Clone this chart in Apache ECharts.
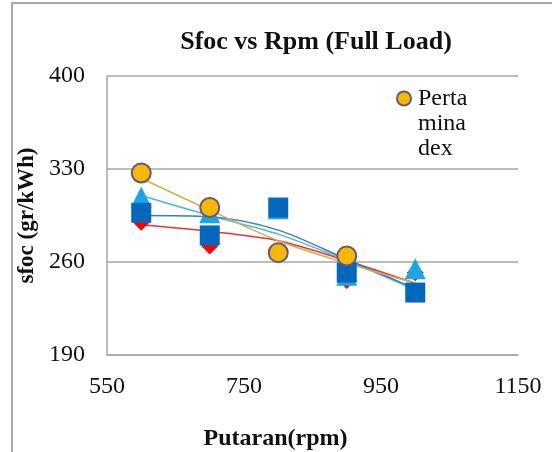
<!DOCTYPE html>
<html>
<head>
<meta charset="utf-8">
<script src="https://cdn.jsdelivr.net/npm/echarts@6/dist/echarts.min.js"></script>
<style>
  html, body { margin: 0; padding: 0; background: #fff; }
  #chart { width: 552px; height: 452px; }
</style>
</head>
<body>
<div id="chart"></div>
<script>
// rpm values
const rpm = [600, 700, 800, 900, 1000];

// measured sfoc (gr/kWh)
const pertaminaDex = [327, 301, 267, 264.5, null];
const redSeries = [290, 272, 300, 246, 252];
const lightBlueSeries = [309, 297, 300, 250, 255];
const darkBlueSeries = [297, 280, 301, 252, 237];

// trendlines
const pertaminaTrend = [323, 299, 276, 259, 244];
const redTrend = [288, 283, 276, 261, 244];
const lightBlueTrend = [310, 295, 281, 261, 239];
const darkBlueTrend = [295, 294, 284, 262, 240];

const yTicks = [190, 260, 330, 400];
const xTicks = [550, 750, 950, 1150];

const pairs = (ys) => rpm.map((x, i) => [x, ys[i]]);
const serif = '"Liberation Serif", "DejaVu Serif", serif';

const trend = (name, ys, color) => ({
  name: name,
  type: 'line',
  data: pairs(ys),
  smooth: 0.3,
  symbol: 'none',
  lineStyle: { color: color, width: 1.5 },
  z: 2,
  silent: true
});

const marks = (name, ys, symbol, size, color, z, border) => ({
  name: name,
  type: 'scatter',
  data: pairs(ys).filter((p) => p[1] != null),
  symbol: symbol,
  symbolSize: size,
  itemStyle: {
    color: color,
    borderColor: border || color,
    borderWidth: border ? 2 : 0,
    opacity: 1
  },
  z: z
});

const chart = echarts.init(document.getElementById('chart'));
chart.setOption({
  animation: false,
  backgroundColor: '#fff',
  title: {
    text: 'Sfoc vs Rpm (Full Load)',
    left: 311,
    textAlign: 'center',
    top: 24,
    textStyle: { fontFamily: serif, fontSize: 26, fontWeight: 'bold', color: '#111' }
  },
  legend: {
    data: ['Pertamina dex'],
    left: 391,
    top: 31,
    icon: 'circle',
    itemWidth: 14,
    itemHeight: 14,
    // two blank lines above keep the icon level with the first word
    formatter: () => '\u00a0\n\u00a0\nPerta\nmina\ndex',
    textStyle: { fontFamily: serif, fontSize: 24, lineHeight: 25, color: '#111', padding: [0, 0, 0, 2] }
  },
  grid: { left: 107, right: 34, top: 76, bottom: 97, outerBoundsMode: 'none', containLabel: false },
  xAxis: {
    type: 'value',
    min: 550,
    max: 1150,
    interval: 200,
    name: 'Putaran(rpm)',
    nameLocation: 'middle',
    nameGap: 72,
    nameTextStyle: { fontFamily: serif, fontSize: 24, fontWeight: 'bold', color: '#111', padding: [0, 74, 0, 0] },
    axisLine: { show: true, lineStyle: { color: '#A6A6A6', width: 1.5 } },
    axisTick: { show: false },
    splitLine: { show: false },
    axisLabel: {
      margin: 20,
      fontFamily: serif,
      fontSize: 24,
      color: '#111',
      formatter: (v) => xTicks.includes(v) ? String(v) : ''
    }
  },
  yAxis: {
    type: 'value',
    min: 190,
    max: 400,
    interval: 70,
    name: 'sfoc (gr/kWh)',
    nameLocation: 'middle',
    nameGap: 53,
    nameTextStyle: { fontFamily: serif, fontSize: 23, fontWeight: 'bold', color: '#111', padding: [10, 0, 0, 0] },
    axisLine: { show: true, lineStyle: { color: '#A6A6A6', width: 1.5 } },
    axisTick: { show: false },
    splitLine: { show: true, lineStyle: { color: '#A6A6A6', width: 1.5 } },
    axisLabel: {
      margin: 22,
      fontFamily: serif,
      fontSize: 24,
      color: '#111',
      formatter: (v) => yTicks.includes(v) ? String(v) : ''
    }
  },
  graphic: [{
    type: 'rect',
    shape: { x: 12, y: 3, width: 600, height: 500 },
    style: { fill: 'none', stroke: '#8C8C8C', lineWidth: 1.5 },
    silent: true
  }],
  series: [
    trend('Red trend', redTrend, '#F03030'),
    trend('Light blue trend', lightBlueTrend, '#4DB3E8'),
    trend('Dark blue trend', darkBlueTrend, '#3A7CC2'),
    trend('Pertamina trend', pertaminaTrend, '#CFAF4A'),
    marks('Red', redSeries, 'diamond', 17, '#FF0000', 3),
    marks('Light blue', lightBlueSeries, 'triangle', 21, '#1AA7E6', 4),
    marks('Dark blue', darkBlueSeries, 'rect', 20, '#0068BD', 5),
    marks('Pertamina dex', pertaminaDex, 'circle', 19, '#F7B800', 6, '#6B5877')
  ]
});
</script>
</body>
</html>
